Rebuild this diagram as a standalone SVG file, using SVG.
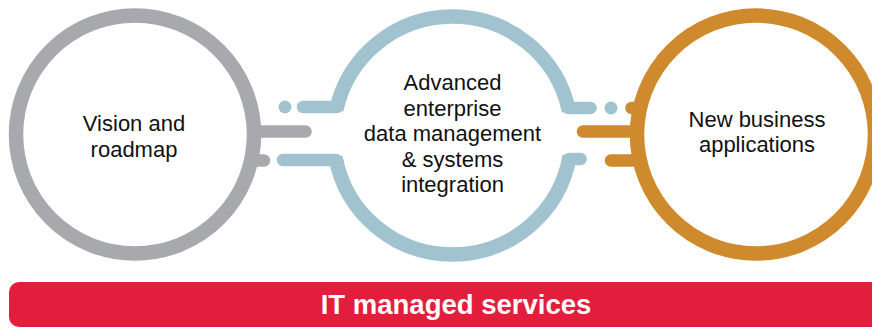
<svg xmlns="http://www.w3.org/2000/svg" width="872" height="328" viewBox="0 0 872 328">
  <style>
    .ring { fill: none; stroke-width: 14.5; }
    .bar { fill: none; stroke-width: 12.5; stroke-linecap: round; }
    .gray { stroke: #A7A9AC; }
    .blue { stroke: #A0C3CF; }
    .orange { stroke: #CE8A2C; }
    .lbl { font-family: "Liberation Sans", Arial, Helvetica, sans-serif; font-size: 22px; fill: #111111; text-anchor: middle; }
    .band { font-family: "Liberation Sans", Arial, Helvetica, sans-serif; font-size: 27.5px; font-weight: bold; fill: #FFFFFF; text-anchor: middle; }
  </style>
  <rect width="872" height="328" fill="#FFFFFF"/>

  <g id="node-vision">
    <circle class="ring gray" cx="135" cy="134.5" r="119"/>
    <text class="lbl" x="134" y="131">Vision and</text>
    <text class="lbl" x="134" y="156.5">roadmap</text>
  </g>

  <g id="node-data">
    <path class="ring blue" d="M336.26 110 A119 119 0 0 1 568.95 111"/>
    <path class="ring blue" d="M335.46 157 A119 119 0 0 0 569.72 156"/>
    <text class="lbl" x="452.5" y="90">Advanced</text>
    <text class="lbl" x="452.5" y="115.5">enterprise</text>
    <text class="lbl" x="452.5" y="141">data management</text>
    <text class="lbl" x="452.5" y="166.5">&amp; systems</text>
    <text class="lbl" x="452.5" y="192">integration</text>
  </g>

  <g id="node-apps">
    <circle class="ring orange" cx="756" cy="134.5" r="119"/>
    <text class="lbl" x="757" y="127">New business</text>
    <text class="lbl" x="757" y="152">applications</text>
  </g>

  <g id="connectors">
    <line class="bar gray" x1="254" y1="131.5" x2="305.5" y2="131.5"/>
    <line class="bar gray" x1="251" y1="160.5" x2="264" y2="160.5"/>
    <circle cx="285" cy="107" r="6.5" fill="#A0C3CF"/>
    <line class="bar blue" x1="303" y1="107" x2="337" y2="107"/>
    <line class="bar blue" x1="283" y1="160" x2="336" y2="160"/>
    <line class="bar blue" x1="568.3" y1="108" x2="590.5" y2="108"/>
    <line class="bar blue" x1="569.2" y1="159" x2="580.5" y2="159"/>
    <circle cx="611" cy="108" r="6.5" fill="#A0C3CF"/>
    <line class="bar orange" x1="631.5" y1="108" x2="640" y2="108"/>
    <line class="bar orange" x1="583" y1="131.5" x2="637" y2="131.5"/>
    <line class="bar orange" x1="611" y1="160.5" x2="640" y2="160.5"/>
  </g>

  <g id="node-it-managed-services">
    <rect x="9" y="282" width="880" height="45" rx="10" ry="10" fill="#E31E3C"/>
    <text class="band" x="456" y="314">IT managed services</text>
  </g>
</svg>
